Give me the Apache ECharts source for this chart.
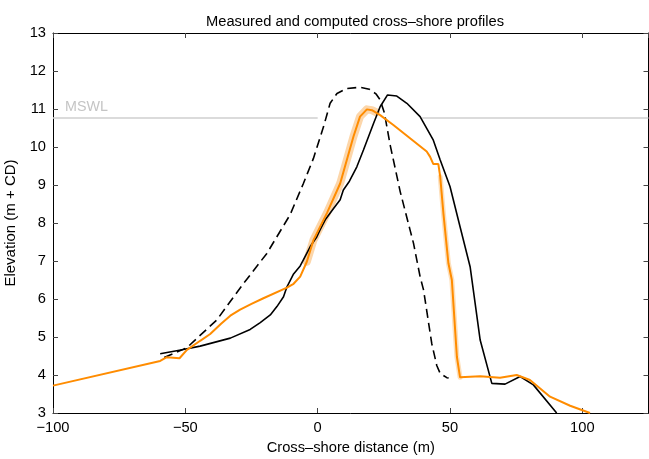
<!DOCTYPE html>
<html>
<head>
<meta charset="utf-8">
<script src="https://cdn.jsdelivr.net/npm/echarts@6/dist/echarts.min.js"></script>
<style>html,body{margin:0;padding:0;background:#fff}#c{width:649px;height:459px}</style>
</head>
<body>
<div id="c"></div>
<script>
// x ticks and y ticks
var xTicks = [-100, -50, 0, 50, 100];
var yTicks = [3, 4, 5, 6, 7, 8, 9, 10, 11, 12, 13];
var mswlLevel = 10.76;
var mswlLeft = [[-100, 10.76], [0, 10.76]];
var mswlRight = [[39.5, 10.76], [125, 10.76]];

// initial (dashed) measured profile
var initialProfile = [[-58,4.46],[-49.4,4.72],[-38.1,5.45],[-28,6.41],[-19.2,7.20],[-10.4,8.22],[-5.4,9.04],[-1.6,9.70],[2.2,10.53],[4.7,11.15],[7.3,11.41],[11,11.54],[16,11.57],[19.5,11.52],[22,11.40],[23.6,11.24],[25.2,10.9],[27.4,10.05],[31.2,8.82],[34.9,7.82],[36.2,7.47],[38.7,6.59],[40,6.24],[43.1,4.83],[45,4.25],[46.3,4.04],[48.8,3.93],[49.5,3.92]];

// final measured profile (solid black)
var measuredProfile = [[-59.5,4.56],[-50.7,4.67],[-44.4,4.76],[-33,4.97],[-25.5,5.20],[-21.7,5.38],[-17.9,5.58],[-15.4,5.80],[-12.9,6.06],[-11.6,6.32],[-9.1,6.66],[-6.6,6.87],[-5.4,7.03],[-2.8,7.38],[-0.3,7.64],[0.9,7.82],[3,8.1],[6.0,8.38],[8.5,8.61],[9.7,8.87],[12,9.1],[14.8,9.48],[17.3,9.92],[21.1,10.62],[23.6,11.06],[26.4,11.37],[29.9,11.34],[33.7,11.15],[38.7,10.80],[43.7,10.18],[46.3,9.66],[50.0,8.96],[53.8,7.90],[57.6,6.85],[61.4,4.92],[65.8,3.78],[70.8,3.76],[76.5,3.96],[81.5,3.74],[90.3,3.0]];

// computed profile (orange)
var computedProfile = [[-100,3.72],[-59.5,4.37],[-57,4.47],[-52.2,4.44],[-49.4,4.66],[-44.4,4.90],[-40.6,5.08],[-36.5,5.35],[-33,5.56],[-29.3,5.72],[-25,5.87],[-20.5,6.02],[-11.6,6.30],[-9.1,6.40],[-6.6,6.59],[-4.1,6.98],[-1.6,7.55],[3.5,8.26],[8.5,9.04],[13.5,10.27],[16,10.80],[18.6,10.99],[20.5,10.97],[23.6,10.84],[28.6,10.58],[34.9,10.23],[41.2,9.88],[42.5,9.74],[43.7,9.55],[45.6,9.55],[46.3,9.22],[47.5,8.26],[49.4,6.94],[50.7,6.50],[52.6,4.48],[53.8,3.94],[61.4,3.97],[68.9,3.93],[75.2,4.0],[80.2,3.87],[87.8,3.43],[95.4,3.19],[102.9,3.0]];

// uncertainty band segments around computed profile
var bandUpper = [[-4.1,6.98],[-1.6,7.55],[3.5,8.26],[8.5,9.04],[13.5,10.27],[16,10.80],[18.6,10.99],[20.5,10.97],[22,10.92]];
var bandLower = [[46.3,9.22],[47.5,8.26],[49.4,6.94],[50.7,6.50],[52.6,4.48],[53.8,3.94]];

var FONT = 'Liberation Sans, Arial, Helvetica, sans-serif';
var FS = 14.7;
var chart = echarts.init(document.getElementById('c'), null, {renderer: 'canvas'});
chart.setOption({
  animation: false,
  backgroundColor: '#fff',
  title: {
    text: 'Measured and computed cross\u2013shore profiles',
    left: 350, top: 9, textAlign: 'center',
    textStyle: {fontFamily: FONT, fontSize: FS, fontWeight: 'normal', color: '#000'}
  },
  grid: {left: 53, right: 0.5, top: 33, bottom: 46, containLabel: false, outerBoundsMode: 'none'},
  xAxis: [{
    type: 'value', min: xTicks[0], max: 125, interval: 50,
    name: 'Cross\u2013shore distance (m)', nameLocation: 'middle', nameGap: 27,
    nameTextStyle: {fontFamily: FONT, fontSize: FS, color: '#000'},
    axisLine: {show: true, onZero: false, lineStyle: {color: '#000', width: 1}},
    axisTick: {show: true, inside: true, length: 5, lineStyle: {color: '#444'}},
    axisLabel: {fontFamily: FONT, fontSize: FS, color: '#000', margin: 7, showMaxLabel: false,
      formatter: function (v) { return v < 0 ? '\u2212' + Math.abs(v) : String(v); }},
    splitLine: {show: false}
  }, {
    type: 'value', position: 'top', min: xTicks[0], max: 125, interval: 50,
    axisLine: {show: true, onZero: false, lineStyle: {color: '#000', width: 1}},
    axisTick: {show: true, inside: true, length: 5, lineStyle: {color: '#444'}},
    axisLabel: {show: false}, splitLine: {show: false}
  }],
  yAxis: [{
    type: 'value', min: yTicks[0], max: yTicks[yTicks.length - 1], interval: 1,
    name: 'Elevation (m + CD)', nameLocation: 'middle', nameGap: 31,
    nameTextStyle: {fontFamily: FONT, fontSize: 15, color: '#000'},
    axisLine: {show: true, onZero: false, lineStyle: {color: '#000', width: 1}},
    axisTick: {show: true, inside: true, length: 5, lineStyle: {color: '#444'}},
    axisLabel: {fontFamily: FONT, fontSize: FS, color: '#000', margin: 7},
    splitLine: {show: false}
  }, {
    type: 'value', position: 'right', min: yTicks[0], max: yTicks[yTicks.length - 1], interval: 1,
    axisLine: {show: true, onZero: false, lineStyle: {color: '#000', width: 1}},
    axisTick: {show: true, inside: true, length: 5, lineStyle: {color: '#444'}},
    axisLabel: {show: false}, splitLine: {show: false}
  }],
  series: [
    {type: 'line', data: mswlLeft, symbol: 'none', lineStyle: {color: '#cfcfcf', width: 1.5}, z: 1, silent: true},
    {type: 'line', data: mswlRight, symbol: 'none', lineStyle: {color: '#cfcfcf', width: 1.5}, z: 1, silent: true},
    {type: 'scatter', data: [[-100, mswlLevel]], symbolSize: 0, z: 1, silent: true,
      label: {show: true, formatter: 'MSWL', position: 'right', distance: 0, offset: [12, -11],
        fontFamily: FONT, fontSize: 14.3, color: '#b5b5b5'}},
    {type: 'line', data: bandUpper, symbol: 'none', lineStyle: {color: '#fcd6aa', width: 8, cap: 'round', join: 'round'}, z: 2, silent: true},
    {type: 'line', data: bandLower, symbol: 'none', lineStyle: {color: '#fde0bd', width: 5, cap: 'round', join: 'round'}, z: 2, silent: true},
    {type: 'line', data: initialProfile, symbol: 'none', lineStyle: {color: '#000', width: 1.6, type: [9, 5]}, z: 3, silent: true},
    {type: 'line', data: measuredProfile, symbol: 'none', lineStyle: {color: '#000', width: 1.6}, z: 3, silent: true},
    {type: 'line', data: computedProfile, symbol: 'none', lineStyle: {color: '#ff8c00', width: 2}, z: 4, silent: true}
  ]
});
</script>
</body>
</html>
